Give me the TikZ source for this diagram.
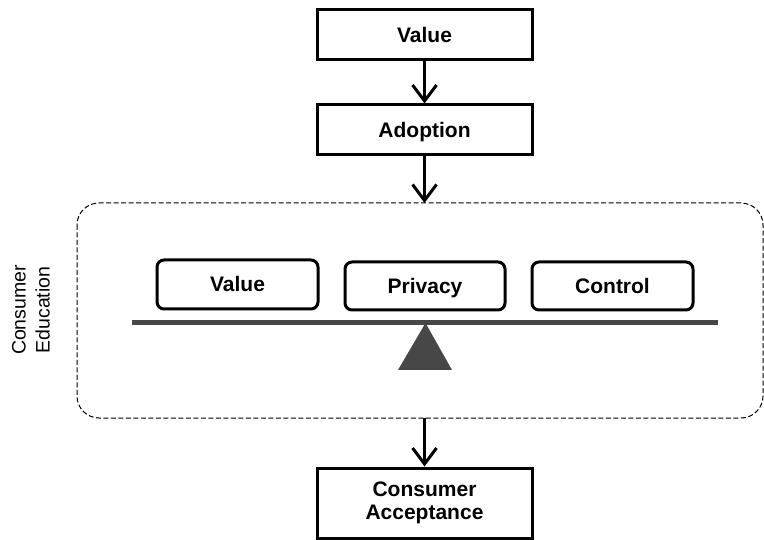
\documentclass[tikz,border=0pt]{standalone}
\usepackage{fontspec}
\setmainfont{Liberation Sans}
\usetikzlibrary{arrows.meta}
\begin{document}
\begin{tikzpicture}[x=1pt,y=-1pt,
  flowbox/.style={draw=black,line width=3pt,fill=white,inner sep=0pt,
    font=\fontsize{21}{23}\selectfont\bfseries,align=center},
  itembox/.style={draw=black,line width=3pt,rounded corners=7pt,fill=white,inner sep=0pt,
    text height=17pt,text depth=2pt,
    font=\fontsize{21}{23}\selectfont\bfseries},
  flow/.style={line width=3pt,-{Straight Barb[length=16pt,width=24pt]}},
  beamcol/.style={fill=black!72,draw=none}]
\useasboundingbox (0,0) rectangle (764,540);

% grouping frame for the balance
\draw[dash pattern=on 5pt off 2.5pt,line width=1pt,rounded corners=22pt] (77,203) rectangle (763,418);
\node[font=\fontsize{19.5}{24}\selectfont,align=center,rotate=90] (edu) at (31,310) {Consumer\\Education};

% flow boxes
\node[flowbox,minimum width=215pt,minimum height=50pt,text height=17pt,text depth=2pt] (value) at (424.5,35) {Value};
\node[flowbox,minimum width=215pt,minimum height=50pt,text height=17pt,text depth=2pt] (adopt) at (424.5,130) {Adoption};
\coordinate (frametop) at (424.5,203);
\coordinate (framebot) at (424.5,418);
\node[flowbox,minimum width=215pt,minimum height=70pt] (accept) at (424.5,503) {Consumer\\Acceptance};

% balance items
\node[itembox,minimum width=161pt,minimum height=49pt] (ival) at (237.5,284.5) {Value};
\node[itembox,minimum width=160pt,minimum height=48pt] (ipriv) at (425,286) {Privacy};
\node[itembox,minimum width=161pt,minimum height=48pt] (ictrl) at (612.5,286) {Control};

% beam and fulcrum
\fill[beamcol] (132,320) rectangle (718,325.5);
\fill[beamcol] (425.5,323) -- (452,370) -- (398,370) -- cycle;

% connectors
\draw[flow] (value.south) -- (adopt.north);
\draw[flow] (adopt.south) -- (frametop);
\draw[flow] (framebot) -- (accept.north);
\end{tikzpicture}
\end{document}
